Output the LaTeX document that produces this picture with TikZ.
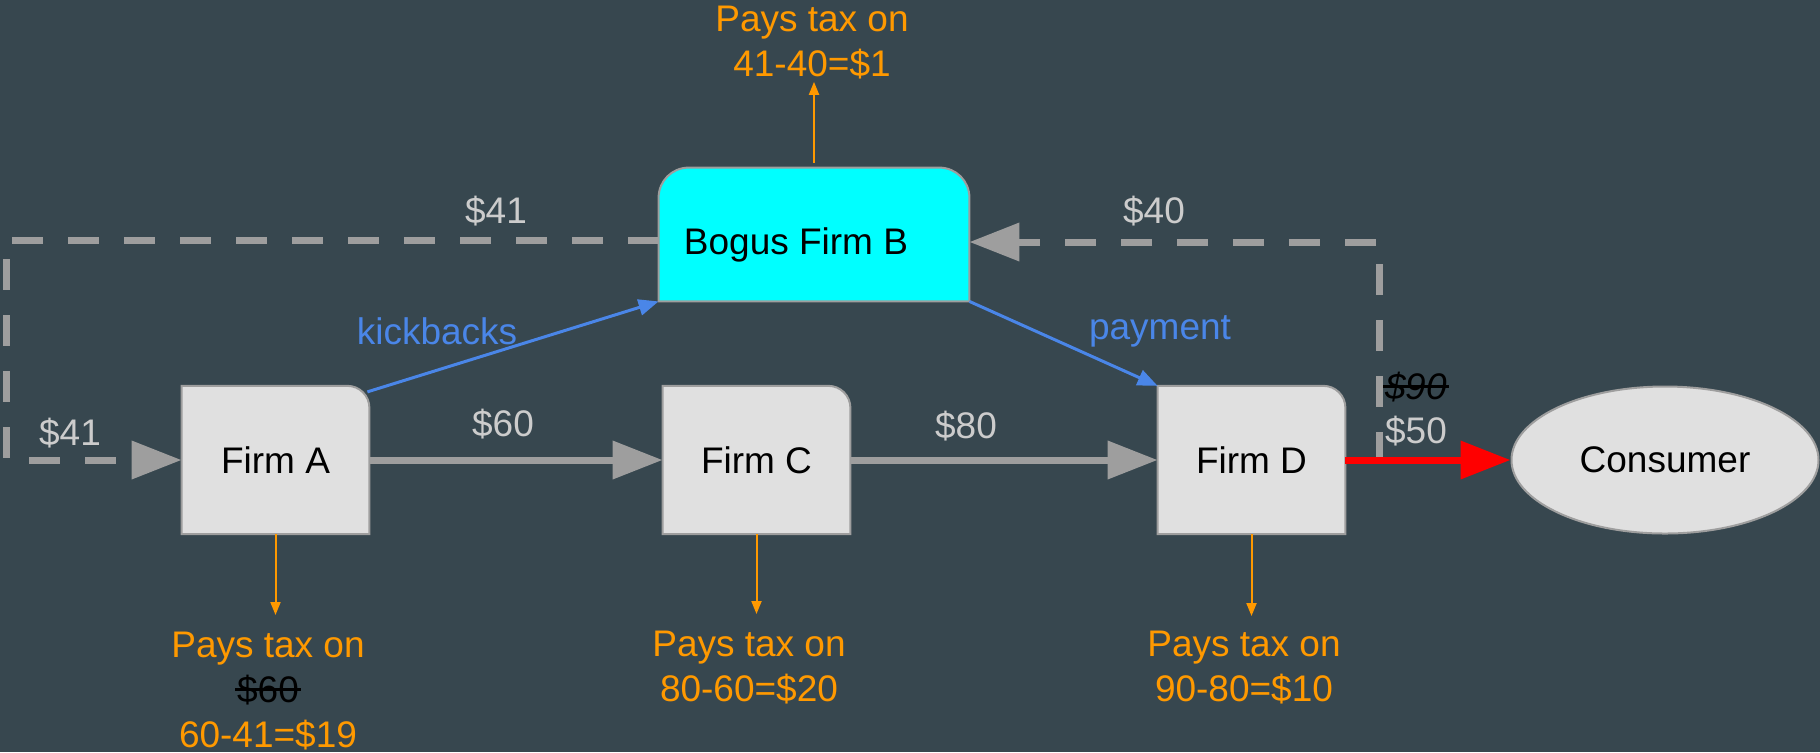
\documentclass[tikz,border=0pt]{standalone}
\usepackage{fontspec}
\setmainfont{Liberation Sans}
\usetikzlibrary{arrows.meta,shapes.geometric}
\definecolor{bgc}{HTML}{37474F}
\definecolor{orng}{HTML}{FF9900}
\definecolor{gry}{HTML}{9E9E9E}
\definecolor{lbl}{HTML}{CCCCCC}
\definecolor{blu}{HTML}{4A86E8}
\definecolor{boxfill}{HTML}{E0E0E0}
\definecolor{boxedge}{HTML}{9E9E9E}
\definecolor{cyn}{RGB}{0,255,255}
\pgfdeclarelayer{bg}
\pgfsetlayers{bg,main}
\newcommand{\fs}{\fontsize{18.5}{22.5}\selectfont}
\newcommand{\strk}[1]{\setbox0\hbox{#1}\rlap{\kern-1pt\rule[0.32em]{\dimexpr\wd0+2pt\relax}{1.3pt}}\box0}
\begin{document}
\begin{tikzpicture}[x=0.5pt,y=-0.5pt,
  firm/.style={minimum width=93.5pt,minimum height=73.75pt,inner sep=0pt,font=\fs,text=black},
  bogus/.style={minimum width=155pt,minimum height=66.5pt,inner sep=0pt},
  consumer/.style={ellipse,minimum width=153.5pt,minimum height=73.5pt,inner sep=0pt,fill=boxfill,draw=boxedge,line width=1pt,font=\fs,text=black},
  boxline/.style={draw=boxedge,line width=1pt},
  flow/.style={draw=gry,line width=3.5pt,-{Triangle[length=25pt,width=18.5pt]}},
  redflow/.style={draw=red,line width=3.5pt,-{Triangle[length=25pt,width=18.5pt]}},
  dashflow/.style={draw=gry,line width=3.5pt,dash pattern=on 15.5pt off 12.5pt,-{Triangle[length=25pt,width=18.5pt]}},
  blueflow/.style={draw=blu,line width=1.5pt,-{Triangle[length=10pt,width=8pt]}},
  taxarrow/.style={draw=orng,line width=1pt,-{Triangle[length=6.5pt,width=5pt]}},
  tax/.style={text=orng,font=\fs,align=center,inner sep=0pt,anchor=north},
  lab/.style={text=lbl,font=\fs,inner sep=0pt},
  bluelab/.style={text=blu,font=\fs,inner sep=0pt}]
\begin{pgfonlayer}{bg}
\fill[bgc] (0,0) rectangle (1820,752);
\end{pgfonlayer}
\useasboundingbox (0,0) rectangle (1820,752);

% nodes
\node[firm] (A) at (275.5,460) {Firm A};
\node[firm] (C) at (756.5,460) {Firm C};
\node[firm] (D) at (1251.5,460) {Firm D};
\node[bogus] (B) at (814,234.5) {};
\node[font=\fs,text=black,inner sep=0pt] (Btxt) at (796,245) {Bogus Firm B};
\node[consumer] (E) at (1665,460) {Consumer};

\begin{pgfonlayer}{bg}
\draw[boxline,fill=boxfill] (A.south west) -- (A.north west) -- ([xshift=-11pt]A.north east) arc[start angle=90,end angle=0,radius=11pt] -- (A.south east) -- cycle;
\draw[boxline,fill=boxfill] (C.south west) -- (C.north west) -- ([xshift=-11pt]C.north east) arc[start angle=90,end angle=0,radius=11pt] -- (C.south east) -- cycle;
\draw[boxline,fill=boxfill] (D.south west) -- (D.north west) -- ([xshift=-11pt]D.north east) arc[start angle=90,end angle=0,radius=11pt] -- (D.south east) -- cycle;
\draw[boxline,fill=cyn] (B.south west) -- ([yshift=-15pt]B.north west) arc[start angle=180,end angle=90,radius=15pt] -- ([xshift=-15pt]B.north east) arc[start angle=90,end angle=0,radius=15pt] -- (B.south east) -- cycle;
\end{pgfonlayer}

% tax labels
\node[tax] (Btax) at (812,6) {Pays tax on\\41-40=\$1};
\node[tax] (Atax) at (268,632) {Pays tax on\\{\color{black}\strk{\$60}}\\60-41=\$19};
\node[tax] (Ctax) at (749,631) {Pays tax on\\80-60=\$20};
\node[tax] (Dtax) at (1244,631) {Pays tax on\\90-80=\$10};

\draw[taxarrow,shorten >=1pt] ([yshift=2.5pt]B.north) -- (B.north |- Btax.south);
\draw[taxarrow,shorten >=8.5pt] (A.south) -- (A.south |- Atax.north);
\draw[taxarrow,shorten >=8.5pt] (C.south) -- (C.south |- Ctax.north);
\draw[taxarrow,shorten >=7.5pt] (D.south) -- (D.south |- Dtax.north);

% dashed loops
\coordinate (LT) at (6,240);
\coordinate (RB) at (1379,463);
\draw[dashflow] ([yshift=-2.75pt]B.west) -- (LT) |- (A.west);
\draw[dashflow] (RB) |- ([yshift=-3.75pt]B.east);

% flows
\draw[flow] (A) -- (C);
\draw[flow] (C) -- (D);
\draw[redflow] (D) -- (E);
\draw[blueflow] ([xshift=-1pt,yshift=-3pt]A.north east) -- (B.south west);
\draw[blueflow] (B.south east) -- (D.north west);

% labels
\node[bluelab] (kb) at (437,331) {kickbacks};
\node[bluelab] (pay) at (1160,331) {payment};
\node[lab] (l41a) at (496,211) {\$41};
\node[lab] (l41b) at (70,433) {\$41};
\node[lab] (l60) at (503,424) {\$60};
\node[lab] (l80) at (966,426) {\$80};
\node[lab] (l40) at (1154,211) {\$40};
\node[font=\fs,text=black,inner sep=0pt] (l90) at (1416,387) {\strk{\textit{\$90}}};
\node[lab] (l50) at (1416,431) {\$50};
\end{tikzpicture}
\end{document}
